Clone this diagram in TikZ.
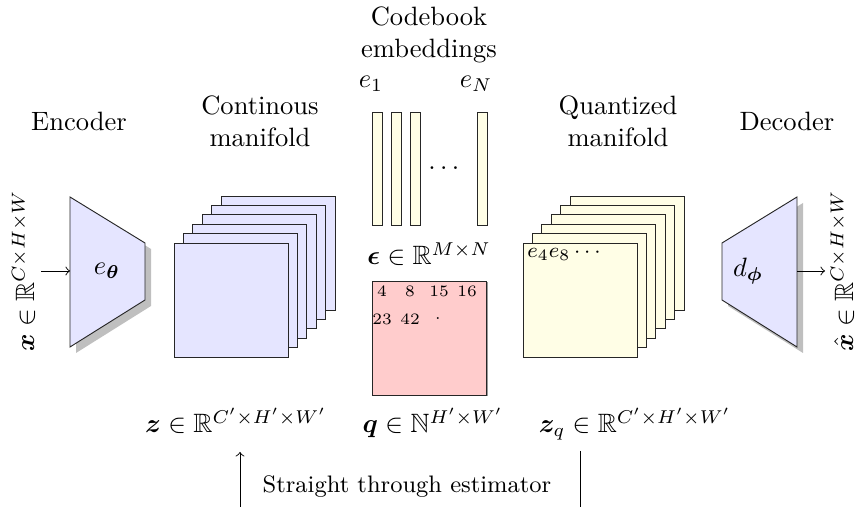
\documentclass[tikz,border=0pt]{standalone}
\usepackage{amsmath,amssymb,bm}
\begin{document}
\begin{tikzpicture}[x=0.377pt,y=-0.377pt, line width=0.35pt,
  outl/.style={draw=black!85},
  shade/.style={fill=black!25},
  bluef/.style={outl, fill=blue!10},
  yelf/.style={outl, fill=yellow!10},
  pinkf/.style={outl, fill=red!20},
  title/.style={align=center, inner sep=0pt},
  numl/.style={font=\fontsize{6}{7}\selectfont, inner sep=0pt}]
\useasboundingbox (0,0) rectangle (860,507);

% titles
\node[title] (tenc) at (79,121) {Encoder};
\node[title] (tcont) at (260,121) {Continous\\manifold};
\node[title] (tcode) at (429,35) {Codebook\\embeddings};
\node[title] (tquant) at (618,121) {Quantized\\manifold};
\node[title] (tdec) at (787,121) {Decoder};

% encoder
\fill[shade] (76,203) -- (151,249) -- (151,306) -- (76,353) -- cycle;
\filldraw[bluef] (70,197) -- (145,243) -- (145,300) -- (70,347) -- cycle;
\node (enc) at (107,271) {$e_{\bm{\theta}}$};
\coordinate (encin) at (70,271);
\coordinate (xin) at (41,271);
\draw[->] (xin) -- (encin);
\node[rotate=90, anchor=south, inner sep=2pt] (xlab) at (xin) {$\bm{x}\in\mathbb{R}^{C\times H\times W}$};

% continuous stack
\foreach \i in {5,4,...,0}{
  \filldraw[bluef] ({174+9.4*\i},{243-9.4*\i}) rectangle +(114,114);
}

% codebook bars
\foreach \x in {372,391,410,477}{
  \fill[black!35] ({\x+1.2},113.2) rectangle +(10,113);
  \filldraw[yelf] (\x,112) rectangle +(10,113);
}
\node[inner sep=0pt] (dots) at (446,168) {$\dots$};
\node[anchor=base, inner sep=0pt] (e1) at (371,88) {$e_1$};
\node[anchor=base, inner sep=0pt] (eN) at (476,88) {$e_N$};
\node[anchor=base, inner sep=0pt] (epslab) at (429,265) {$\bm{\epsilon}\in\mathbb{R}^{M\times N}$};

% index map
\fill[black!40] (373.5,282.5) rectangle +(114,114);
\filldraw[pinkf] (372,281) rectangle +(114,114);
\node[numl] (n1) at (382,291) {4};
\node[numl] (n2) at (410,291) {8};
\node[numl] (n3) at (439,291) {15};
\node[numl] (n4) at (467,291) {16};
\node[numl] (n5) at (382,319) {23};
\node[numl] (n6) at (410,319) {42};
\node[numl] (n7) at (438,319) {$\cdot$};

% quantized stack
\foreach \i in {5,4,...,0}{
  \filldraw[yelf] ({523+9.4*\i},{243-9.4*\i}) rectangle +(114,114);
}
\node[anchor=north west, font=\footnotesize, inner sep=1.5pt] (eidx) at (523,243) {$e_4 e_8 \cdots$};

% decoder
\fill[shade] (728,249) -- (803,203) -- (803,353) -- (728,306) -- cycle;
\filldraw[bluef] (722,243) -- (797,197) -- (797,347) -- (722,300) -- cycle;
\node (dec) at (748,271) {$d_{\bm{\phi}}$};
\coordinate (decout) at (797,271);
\coordinate (xout) at (825,271);
\draw[->] (decout) -- (xout);
\node[rotate=90, anchor=north, inner sep=2pt] (xhlab) at (xout) {$\hat{\bm{x}}\in\mathbb{R}^{C\times H\times W}$};

% bottom labels
\node[anchor=base, inner sep=0pt] (zlab) at (236,433) {$\bm{z}\in\mathbb{R}^{C'\times H'\times W'}$};
\node[anchor=base, inner sep=0pt] (qlab) at (433,433) {$\bm{q}\in\mathbb{N}^{H'\times W'}$};
\node[anchor=base, inner sep=0pt] (zqlab) at (635,433) {$\bm{z}_q\in\mathbb{R}^{C'\times H'\times W'}$};

% straight through estimator
\node[font=\small, inner sep=0pt] (ste) at (407,487) {Straight through estimator};
\coordinate (stel0) at (240,507);
\coordinate (stel1) at (240,452);
\draw[->] (stel0) -- (stel1);
\coordinate (ster0) at (580,451);
\coordinate (ster1) at (580,507);
\draw (ster0) -- (ster1);
\end{tikzpicture}
\end{document}
